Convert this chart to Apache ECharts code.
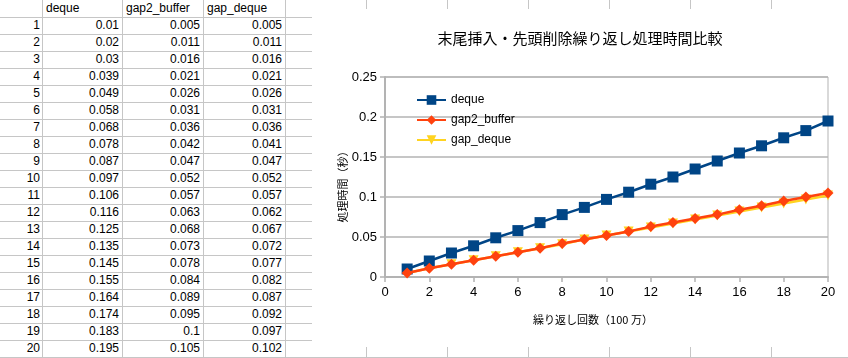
<!DOCTYPE html>
<html><head><meta charset="utf-8">
<script src="https://cdn.jsdelivr.net/npm/echarts@6/dist/echarts.min.js"></script>
<style>
html,body{margin:0;padding:0;background:#fff;width:848px;height:358px;overflow:hidden;position:relative;font-family:"Liberation Sans",Arial,sans-serif;}
.vl{position:absolute;top:0;width:1px;height:358px;background:#c6c6c6;}
.hl{position:absolute;left:0;height:1px;width:848px;background:#c6c6c6;}
.c{position:absolute;height:17px;line-height:17px;font-size:12px;color:#000;white-space:nowrap;}
#chart{position:absolute;left:312px;top:9px;width:536px;height:338px;background:#fff;}
</style></head>
<body>
<div id="sheet"></div>
<div id="chart"></div>
<script>
const headers = ["deque", "gap2_buffer", "gap_deque"];
const counts = [1,2,3,4,5,6,7,8,9,10,11,12,13,14,15,16,17,18,19,20];
const deque = [0.01,0.02,0.03,0.039,0.049,0.058,0.068,0.078,0.087,0.097,0.106,0.116,0.125,0.135,0.145,0.155,0.164,0.174,0.183,0.195];
const gap2_buffer = [0.005,0.011,0.016,0.021,0.026,0.031,0.036,0.042,0.047,0.052,0.057,0.063,0.068,0.073,0.078,0.084,0.089,0.095,0.1,0.105];
const gap_deque = [0.005,0.011,0.016,0.021,0.026,0.031,0.036,0.041,0.047,0.052,0.057,0.062,0.067,0.072,0.077,0.082,0.087,0.092,0.097,0.102];
const yTicks = [0,0.05,0.1,0.15,0.2,0.25];
const title = "末尾挿入・先頭削除繰り返し処理時間比較";
const xName = "繰り返し回数（100 万）";
const yName = "処理時間（秒）";

// spreadsheet background
const sheet = document.getElementById('sheet');
const colX = [42,122,203,285,366,447,528,609,690,771];
let html = '';
colX.forEach(x => { html += `<div class="vl" style="left:${x}px"></div>`; });
for (let r = 1; r <= 21; r++) html += `<div class="hl" style="top:${r*17}px"></div>`;
headers.forEach((h,i) => { html += `<div class="c" style="left:${colX[i]+4}px;top:0px">${h}</div>`; });
const cols = [deque, gap2_buffer, gap_deque];
counts.forEach((n,r) => {
  const top = (r+1)*17;
  html += `<div class="c" style="left:0;width:40px;text-align:right;top:${top}px">${n}</div>`;
  cols.forEach((arr,i) => {
    html += `<div class="c" style="left:${colX[i]}px;width:${colX[i+1]-colX[i]-3}px;text-align:right;top:${top}px">${arr[r]}</div>`;
  });
});
sheet.innerHTML = html;

const chart = echarts.init(document.getElementById('chart'), null, {renderer:'canvas'});
const axisCol = '#b3b3b3';
const font = '"Liberation Sans","Noto Sans CJK JP",sans-serif';
const mk = (arr) => counts.map((c,i) => [c, arr[i]]);
chart.setOption({
  backgroundColor: '#fff',
  animation: false,
  textStyle: {fontFamily: font},
  title: {text: title, left: 'center', top: 17, textStyle: {fontSize: 15, fontWeight: 'normal', color: '#000', fontFamily: '"Noto Sans CJK JP",sans-serif'}},
  grid: {left: 73, right: 20, top: 68, bottom: 70, show: true, borderColor: axisCol, borderWidth: 1},
  legend: {
    orient: 'vertical', left: 99, top: 80, itemWidth: 29, itemHeight: 12, itemGap: 8,
    data: headers,
    textStyle: {fontSize: 12, color: '#000', fontFamily: font}
  },
  xAxis: {
    type: 'value', min: 0, max: 20, interval: 2,
    axisLine: {show: true, lineStyle: {color: axisCol, width: 2}},
    axisTick: {show: true, inside: false, length: 5, lineStyle: {color: axisCol, width: 1.5}},
    axisLabel: {fontSize: 13, color: '#000', margin: 9, fontFamily: font},
    splitLine: {show: false}
  },
  yAxis: {
    type: 'value', min: 0, max: 0.25, interval: 0.05,
    axisLine: {show: true, lineStyle: {color: axisCol, width: 2}},
    axisTick: {show: true, inside: false, length: 5, lineStyle: {color: axisCol, width: 1.5}},
    axisLabel: {fontSize: 13, color: '#000', margin: 8, fontFamily: font,
      formatter: v => { const t = yTicks.find(x => Math.abs(x - v) < 1e-9); return String(t !== undefined ? t : v); }},
    splitLine: {show: true, lineStyle: {color: axisCol, width: 1.5}}
  },
  graphic: [
    {type: 'text', x: 281, y: 311, style: {text: xName, fontSize: 11, fill: '#000', align: 'center', verticalAlign: 'middle', fontFamily: '"Noto Sans CJK JP",sans-serif'}},
    {type: 'text', x: 31, y: 175, rotation: Math.PI/2, style: {text: yName, fontSize: 11, fill: '#000', align: 'center', verticalAlign: 'middle', fontFamily: '"Noto Sans CJK JP",sans-serif'}}
  ],
  series: [
    {name: 'deque', type: 'line', data: mk(deque), symbol: 'rect', symbolSize: 11, z: 3,
     itemStyle: {color: '#004586'}, lineStyle: {color: '#004586', width: 2.5}},
    {name: 'gap2_buffer', type: 'line', data: mk(gap2_buffer), symbol: 'diamond', symbolSize: 11, z: 4,
     itemStyle: {color: '#ff420e'}, lineStyle: {color: '#ff420e', width: 2.5}},
    {name: 'gap_deque', type: 'line', data: mk(gap_deque), symbol: 'triangle', symbolRotate: 180, symbolSize: 10, z: 2,
     itemStyle: {color: '#ffd320'}, lineStyle: {color: '#ffd320', width: 2.5}}
  ]
});
</script>
</body></html>
